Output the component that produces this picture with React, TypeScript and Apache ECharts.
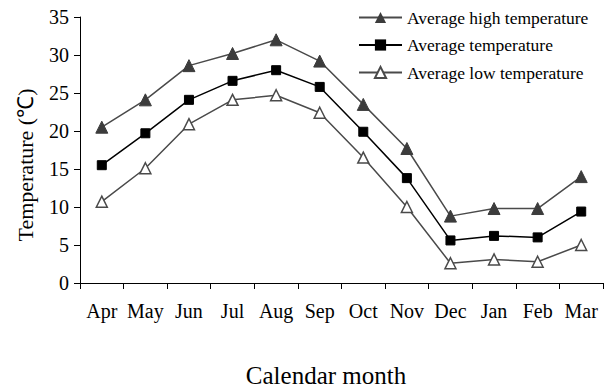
import React, { useEffect, useRef } from "react";
import * as echarts from "echarts";

const months = ["Apr", "May", "Jun", "Jul", "Aug", "Sep", "Oct", "Nov", "Dec", "Jan", "Feb", "Mar"];
const highTemp = [20.5, 24.1, 28.6, 30.2, 32.0, 29.2, 23.5, 17.7, 8.8, 9.8, 9.8, 14.0];
const avgTemp = [15.5, 19.7, 24.1, 26.6, 28.0, 25.8, 19.9, 13.8, 5.6, 6.2, 6.0, 9.4];
const lowTemp = [10.7, 15.1, 20.9, 24.1, 24.7, 22.4, 16.5, 10.0, 2.6, 3.1, 2.8, 5.0];

const seriesNames = ["Average high temperature", "Average temperature", "Average low temperature"];
const yAxisTitle = "Temperature (℃)";
const xAxisTitle = "Calendar month";

const FONT = "'Liberation Serif', 'Times New Roman', serif";

export default function App() {
  const ref = useRef<HTMLDivElement>(null);
  useEffect(() => {
    if (!ref.current) return;
    const chart = echarts.init(ref.current, undefined, { renderer: "svg" });
    chart.setOption({
      animation: false,
      backgroundColor: "#ffffff",
      textStyle: { fontFamily: FONT, color: "#000" },
      grid: { left: 80, right: 8, top: 17, bottom: 105, containLabel: false },
      legend: {
        orient: "vertical",
        left: 358,
        top: 8.5,
        padding: 0,
        itemWidth: 43,
        itemHeight: 14,
        itemGap: 9.5,
        textStyle: { fontFamily: FONT, fontSize: 17.5, color: "#000" },
        data: seriesNames,
      },
      xAxis: {
        type: "category",
        data: months,
        boundaryGap: true,
        axisLine: { lineStyle: { color: "#000", width: 1 } },
        axisTick: { show: true, inside: false, length: 6, lineStyle: { color: "#000" } },
        axisLabel: { fontFamily: FONT, fontSize: 20, color: "#000", margin: 18, interval: 0 },
        splitLine: { show: false },
      },
      yAxis: {
        type: "value",
        min: 0,
        max: 35,
        interval: 5,
        name: yAxisTitle,
        nameLocation: "middle",
        nameGap: 44,
        nameTextStyle: { fontFamily: FONT, fontSize: 22, color: "#000", padding: [0, 30, 0, 0] },
        axisLine: { show: true, lineStyle: { color: "#000", width: 1 } },
        axisTick: { show: true, inside: false, length: 6, lineStyle: { color: "#000" } },
        axisLabel: { fontFamily: FONT, fontSize: 20, color: "#000", margin: 11 },
        splitLine: { show: false },
      },
      graphic: [
        {
          type: "text",
          x: 326,
          y: 375,
          style: {
            text: xAxisTitle,
            fontFamily: FONT,
            fontSize: 25,
            fill: "#000",
            textAlign: "center",
            textVerticalAlign: "middle",
          },
        },
      ],
      series: [
        {
          name: seriesNames[0],
          type: "line",
          data: highTemp,
          symbol: "triangle",
          symbolSize: 12,
          itemStyle: { color: "#3c3c3c", borderColor: "#3c3c3c" },
          lineStyle: { color: "#4a4a4a", width: 1.5 },
        },
        {
          name: seriesNames[1],
          type: "line",
          data: avgTemp,
          symbol: "rect",
          symbolSize: 9,
          itemStyle: { color: "#000", borderColor: "#000" },
          lineStyle: { color: "#000", width: 1.5 },
        },
        {
          name: seriesNames[2],
          type: "line",
          data: lowTemp,
          symbol: "triangle",
          symbolSize: 11,
          itemStyle: { color: "#ffffff", borderColor: "#4a4a4a", borderWidth: 1.5 },
          lineStyle: { color: "#4a4a4a", width: 1.5 },
        },
      ],
    });
    return () => chart.dispose();
  }, []);
  return (
    <div
      ref={ref}
      style={{ position: "fixed", left: 0, top: 0, width: 611, height: 388, background: "#fff" }}
    />
  );
}
